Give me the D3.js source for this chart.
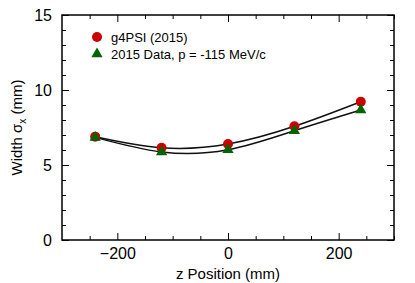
<!DOCTYPE html>
<html>
<head>
<meta charset="utf-8">
<script src="https://cdn.jsdelivr.net/npm/d3@7"></script>
<style>
  body { margin: 0; background: #fff; }
  text { font-family: "Liberation Sans", Arial, sans-serif; }
</style>
</head>
<body>
<div id="chart"></div>
<script>
// data
const zPos = [-240, -120, 0, 120, 240];
const simWidth = [6.89, 6.15, 6.40, 7.58, 9.22];   // g4PSI (2015)
const dataWidth = [6.84, 5.87, 6.02, 7.29, 8.67];  // 2015 Data
const xTickLabels = [-200, 0, 200];
const yTickLabels = [0, 5, 10, 15];
const legendLabels = ["g4PSI (2015)", "2015 Data, p = -115 MeV/c"];

var margin = { top: 15, right: 21, bottom: 43, left: 62 },
    width = 415 - margin.left - margin.right,
    height = 283 - margin.top - margin.bottom;

var svg = d3.select("#chart")
    .append("svg")
    .attr("width", 415)
    .attr("height", 283)
    .append("g")
    .attr("transform", "translate(" + margin.left + "," + margin.top + ")");

var x = d3.scaleLinear().domain([-300, 300]).range([0, width]);
var y = d3.scaleLinear().domain([0, 15]).range([height, 0]);

// ticks, all pointing inward, on all four sides
const axisGroup = svg.append("g").attr("id", "axisGroup");

function tickAxis(axis, transform, withLabels) {
    var g = axisGroup.append("g").attr("transform", transform);
    g.call(axis);
    g.select(".domain").remove();
    if (!withLabels) g.selectAll("text").remove();
    return g;
}

const xMinor = d3.range(-250, 301, 50).filter(v => v % 200 != 0);
const yMinor = d3.range(1, 15, 1).filter(v => v % 5 != 0);

// bottom
tickAxis(d3.axisBottom(x).tickValues(xMinor).tickSize(-4), "translate(0," + height + ")", false);
var xb = tickAxis(d3.axisBottom(x).tickValues(xTickLabels).tickSize(-7).tickPadding(8).tickFormat(d => d < 0 ? "\u2212" + Math.abs(d) : d), "translate(0," + height + ")", true);
// top
tickAxis(d3.axisTop(x).tickValues(xMinor).tickSize(-4), "translate(0,0)", false);
tickAxis(d3.axisTop(x).tickValues(xTickLabels).tickSize(-7), "translate(0,0)", false);
// left
tickAxis(d3.axisLeft(y).tickValues(yMinor).tickSize(-4), "translate(0,0)", false);
var yl = tickAxis(d3.axisLeft(y).tickValues(yTickLabels).tickSize(-7).tickPadding(10), "translate(0,0)", true);
// right
tickAxis(d3.axisRight(y).tickValues(yMinor).tickSize(-4), "translate(" + width + ",0)", false);
tickAxis(d3.axisRight(y).tickValues(yTickLabels).tickSize(-7), "translate(" + width + ",0)", false);

axisGroup.selectAll("line").attr("stroke", "#000").attr("stroke-width", 1);
xb.selectAll("text").attr("font-size", 16).attr("fill", "#000");
yl.selectAll("text").attr("font-size", 16).attr("fill", "#000");

// frame
svg.append("rect")
    .attr("x", 0).attr("y", 0)
    .attr("width", width).attr("height", height)
    .attr("fill", "none").attr("stroke", "#000").attr("stroke-width", 1.5);

// axis titles
svg.append("text")
    .attr("text-anchor", "middle")
    .attr("x", width / 2)
    .attr("y", height + 39)
    .attr("font-size", 15)
    .text("z Position (mm)");

var yTitle = svg.append("text")
    .attr("text-anchor", "middle")
    .attr("transform", "translate(" + (-40) + "," + (height / 2) + ") rotate(-90)")
    .attr("font-size", 15);
yTitle.append("tspan").text("Width \u03c3");
yTitle.append("tspan").attr("font-size", 10).attr("dy", 4).text("x");
yTitle.append("tspan").attr("dy", -4).text(" (mm)");

// curves
const elementGroup = svg.append("g").attr("id", "elementGroup");
var line = d3.line().x(d => x(d[0])).y(d => y(d[1])).curve(d3.curveNatural);

[simWidth, dataWidth].forEach(series => {
    elementGroup.append("path")
        .datum(zPos.map((z, i) => [z, series[i]]))
        .attr("d", line)
        .attr("fill", "none")
        .attr("stroke", "#111")
        .attr("stroke-width", 1.5);
});

var red = "#cc0000", green = "#006400";
var tri = d3.symbol().type(d3.symbolTriangle).size(55);

elementGroup.selectAll("circle.sim")
    .data(zPos.map((z, i) => [z, simWidth[i]]))
    .enter().append("circle")
    .attr("class", "sim")
    .attr("cx", d => x(d[0]))
    .attr("cy", d => y(d[1]))
    .attr("r", 5)
    .attr("fill", red);

elementGroup.selectAll("path.dat")
    .data(zPos.map((z, i) => [z, dataWidth[i]]))
    .enter().append("path")
    .attr("class", "dat")
    .attr("d", tri)
    .attr("transform", d => "translate(" + x(d[0]) + "," + y(d[1]) + ")")
    .attr("fill", green);

// legend
var legend = svg.append("g").attr("transform", "translate(35,22)");
legend.append("circle").attr("cx", 0).attr("cy", 0).attr("r", 5).attr("fill", red);
legend.append("text").attr("x", 14).attr("y", 5).attr("font-size", 13).text(legendLabels[0]);
legend.append("path").attr("d", tri).attr("transform", "translate(0,17)").attr("fill", green);
legend.append("text").attr("x", 14).attr("y", 22).attr("font-size", 13).text(legendLabels[1]);
</script>
</body>
</html>
